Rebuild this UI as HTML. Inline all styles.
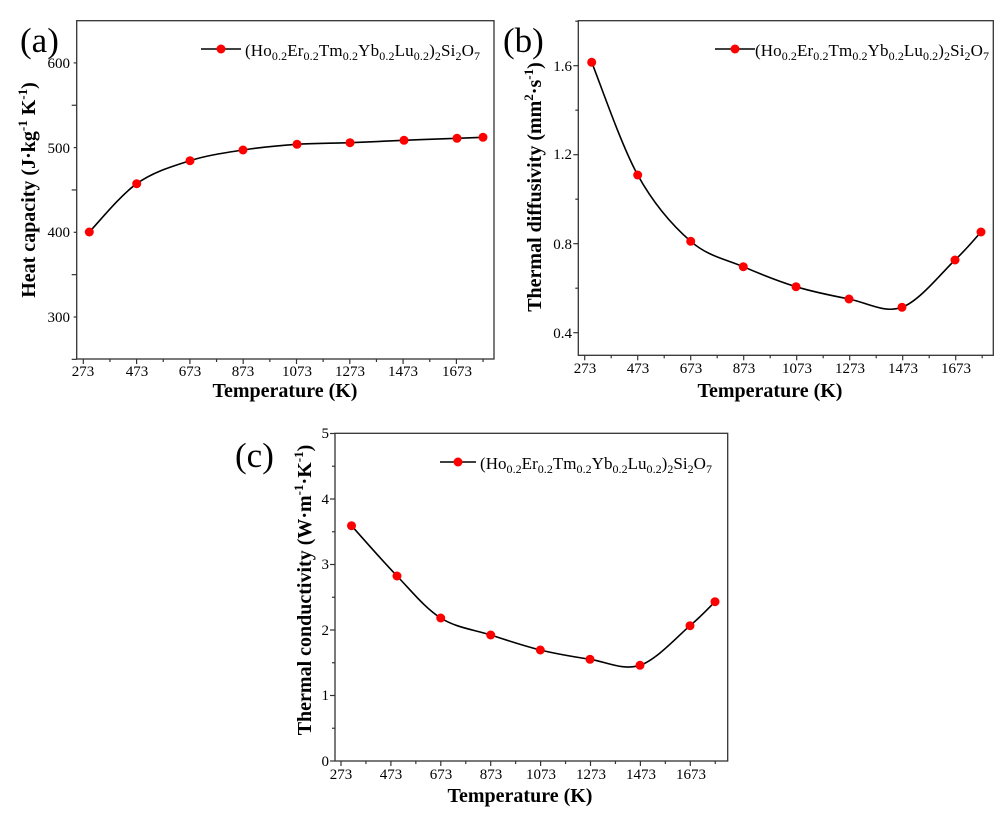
<!DOCTYPE html>
<html><head><meta charset="utf-8"><style>
html,body{margin:0;padding:0;background:#fff}
svg text{font-family:"Liberation Serif",serif;fill:#000}
.t{font-size:15px}
.b{font-weight:bold;font-size:20px}
.p{font-size:35px}
.l{font-size:17px}
</style></head><body>
<svg id="s" width="996" height="808" xmlns="http://www.w3.org/2000/svg">
<g fill="none" stroke="#333" stroke-width="1.3">
<rect x="76.7" y="20.7" width="417.3" height="338.3"/>
<rect x="578.3" y="20.7" width="415" height="334.6"/>
<rect x="335" y="433.3" width="392.7" height="327.7"/>
</g>
<g id="ticks" stroke="#333" stroke-width="1.2"></g>
<g id="curves" fill="none" stroke="#000" stroke-width="1.6"></g>
<g id="dots" fill="#f00"></g>
<text class="p" x="20" y="52">(a)</text>
<g class="t" text-anchor="end">
<text x="70" y="68">600</text><text x="70" y="153">500</text><text x="70" y="237">400</text><text x="70" y="322">300</text>
</g>
<text class="b" x="285" y="397" text-anchor="middle">Temperature (K)</text>
<text class="b" transform="translate(35,190) rotate(-90)" text-anchor="middle">Heat capacity (J·kg<tspan font-size="13" dy="-8">-1</tspan><tspan dy="8"> K</tspan><tspan font-size="13" dy="-8">-1</tspan><tspan dy="8">)</tspan></text>
<text class="l" x="245" y="56" textLength="235">(Ho<tspan font-size="12" dy="4">0.2</tspan><tspan dy="-4">Er</tspan><tspan font-size="12" dy="4">0.2</tspan><tspan dy="-4">Tm</tspan><tspan font-size="12" dy="4">0.2</tspan><tspan dy="-4">Yb</tspan><tspan font-size="12" dy="4">0.2</tspan><tspan dy="-4">Lu</tspan><tspan font-size="12" dy="4">0.2</tspan><tspan dy="-4">)</tspan><tspan font-size="12" dy="4">2</tspan><tspan dy="-4">Si</tspan><tspan font-size="12" dy="4">2</tspan><tspan dy="-4">O</tspan><tspan font-size="12" dy="4">7</tspan></text>
<text class="p" x="503" y="52">(b)</text>
<g class="t" text-anchor="end">
<text x="572" y="71">1.6</text><text x="572" y="159">1.2</text><text x="572" y="249">0.8</text><text x="572" y="338">0.4</text>
</g>
<text class="b" x="770" y="397" text-anchor="middle">Temperature (K)</text>
<text class="b" transform="translate(541,187) rotate(-90)" text-anchor="middle">Thermal diffusivity (mm<tspan font-size="13" dy="-8">2</tspan><tspan dy="8">·s</tspan><tspan font-size="13" dy="-8">-1</tspan><tspan dy="8">)</tspan></text>
<text class="l" x="755" y="56" textLength="234">(Ho<tspan font-size="12" dy="4">0.2</tspan><tspan dy="-4">Er</tspan><tspan font-size="12" dy="4">0.2</tspan><tspan dy="-4">Tm</tspan><tspan font-size="12" dy="4">0.2</tspan><tspan dy="-4">Yb</tspan><tspan font-size="12" dy="4">0.2</tspan><tspan dy="-4">Lu</tspan><tspan font-size="12" dy="4">0.2</tspan><tspan dy="-4">)</tspan><tspan font-size="12" dy="4">2</tspan><tspan dy="-4">Si</tspan><tspan font-size="12" dy="4">2</tspan><tspan dy="-4">O</tspan><tspan font-size="12" dy="4">7</tspan></text>
<text class="p" x="235" y="467">(c)</text>
<g class="t" text-anchor="end">
<text x="329" y="438">5</text><text x="329" y="504">4</text><text x="329" y="569">3</text><text x="329" y="635">2</text><text x="329" y="700">1</text><text x="329" y="766">0</text>
</g>
<text class="b" x="520" y="802" text-anchor="middle">Temperature (K)</text>
<text class="b" transform="translate(311,590) rotate(-90)" text-anchor="middle">Thermal conductivity (W·m<tspan font-size="13" dy="-8">-1</tspan><tspan dy="8">·K</tspan><tspan font-size="13" dy="-8">-1</tspan><tspan dy="8">)</tspan></text>
<text class="l" x="480" y="469" textLength="232">(Ho<tspan font-size="12" dy="4">0.2</tspan><tspan dy="-4">Er</tspan><tspan font-size="12" dy="4">0.2</tspan><tspan dy="-4">Tm</tspan><tspan font-size="12" dy="4">0.2</tspan><tspan dy="-4">Yb</tspan><tspan font-size="12" dy="4">0.2</tspan><tspan dy="-4">Lu</tspan><tspan font-size="12" dy="4">0.2</tspan><tspan dy="-4">)</tspan><tspan font-size="12" dy="4">2</tspan><tspan dy="-4">Si</tspan><tspan font-size="12" dy="4">2</tspan><tspan dy="-4">O</tspan><tspan font-size="12" dy="4">7</tspan></text>
<g class="t" text-anchor="middle">
<text x="83" y="376">273</text><text x="137" y="376">473</text><text x="190" y="376">673</text><text x="243" y="376">873</text><text x="297" y="376">1073</text><text x="350" y="376">1273</text><text x="403" y="376">1473</text><text x="457" y="376">1673</text>
<text x="585" y="373">273</text><text x="638" y="373">473</text><text x="691" y="373">673</text><text x="744" y="373">873</text><text x="797" y="373">1073</text><text x="850" y="373">1273</text><text x="903" y="373">1473</text><text x="956" y="373">1673</text>
<text x="341" y="779">273</text><text x="391" y="779">473</text><text x="441" y="779">673</text><text x="491" y="779">873</text><text x="541" y="779">1073</text><text x="591" y="779">1273</text><text x="641" y="779">1473</text><text x="691" y="779">1673</text>
</g>
<g stroke="#000" stroke-width="1.6">
<line x1="201" y1="49" x2="241" y2="49"/><line x1="715" y1="49" x2="755" y2="49"/><line x1="440" y1="462" x2="476" y2="462"/>
</g>
<g fill="#f00"><circle cx="221" cy="49" r="4.5"/><circle cx="735" cy="49" r="4.5"/><circle cx="458" cy="462" r="4.5"/></g>
</svg>
<script>
var NS="http://www.w3.org/2000/svg";
function el(p,t,a){var e=document.createElementNS(NS,t);for(var k in a)e.setAttribute(k,a[k]);document.getElementById(p).appendChild(e);}
function spline(pts){var d="M"+pts[0][0]+","+pts[0][1];for(var i=0;i<pts.length-1;i++){var p0=pts[i-1]||pts[i],p1=pts[i],p2=pts[i+1],p3=pts[i+2]||p2;var c1=[p1[0]+(p2[0]-p0[0])/6,p1[1]+(p2[1]-p0[1])/6],c2=[p2[0]-(p3[0]-p1[0])/6,p2[1]-(p3[1]-p1[1])/6];d+=" C"+c1+" "+c2+" "+p2;}return d;}
var A=[[89.3,232],[136.7,183.7],[190,160.7],[243,150],[297,144.3],[350,142.7],[404,140.3],[457,138.3],[483,137.3]];
var B=[[591.7,62.3],[637.7,175],[690.7,241.3],[743.3,266.7],[796,286.7],[849,299],[902,307.3],[955,260],[981,232]];
var C=[[351.5,525.7],[397,576],[440.7,618],[490.7,635],[540.3,650],[590,659.3],[640,665.3],[690,625.7],[715,601.7]];
[A,B,C].forEach(function(P){el("curves","path",{d:spline(P)});P.forEach(function(p){el("dots","circle",{cx:p[0],cy:p[1],r:4.5});});});
function xt(x0,step,y,n){for(var i=0;i<16;i++){var x=x0+i*step/2;if(x>n)break;el("ticks","line",{x1:x,x2:x,y1:y,y2:y+(i%2?3:5)});}}
xt(83.3,53.3,359,494);xt(584.7,53,355.3,993);xt(341,49.9,761,727);
function yt(x,y0,step,top){for(var i=0;;i++){var y=y0-i*step/2;if(y<top)break;el("ticks","line",{x1:x,x2:x-(i%2?3:5),y1:y,y2:y});}}
yt(76.7,317+84.7/2,84.7,21);yt(578.3,332.7,89,21);yt(335,761,65.5,433);
</script>
</body></html>
